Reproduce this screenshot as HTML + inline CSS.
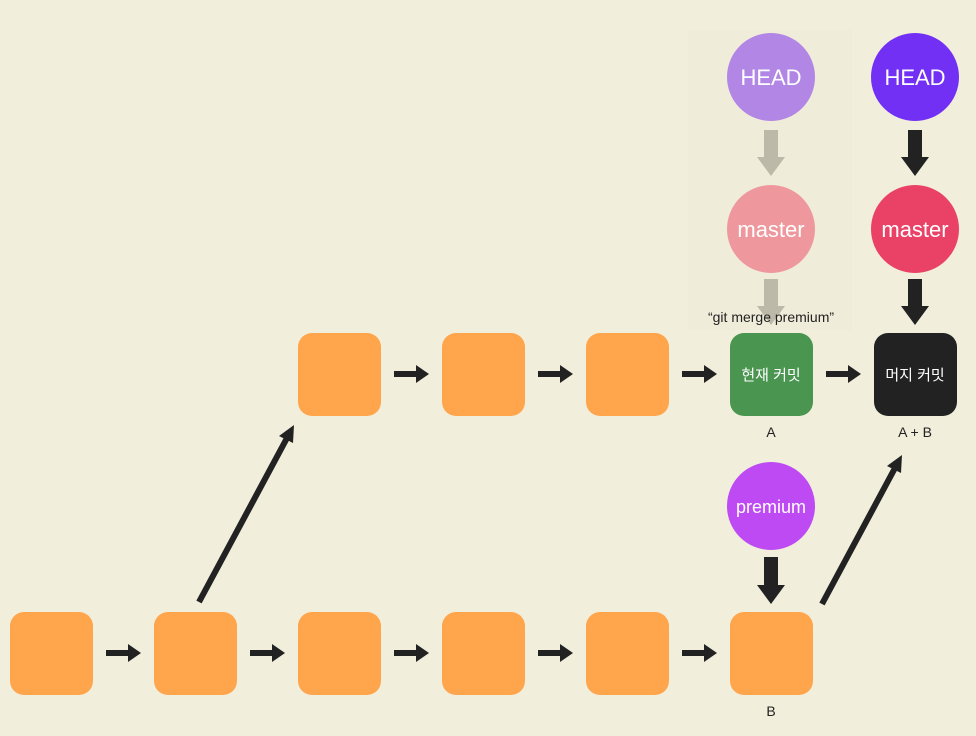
<!DOCTYPE html>
<html><head><meta charset="utf-8"><style>
html,body{margin:0;padding:0;background:#f1eedb;}
svg{display:block}
text{font-family:"Liberation Sans","Noto Sans CJK KR",sans-serif;}
</style></head><body>
<svg width="976" height="736" viewBox="0 0 976 736" xmlns="http://www.w3.org/2000/svg">
<defs>
<g id="ha"><rect x="0" y="-3" width="23" height="6" fill="#222"/><polygon points="22,-9 35,0 22,9" fill="#222"/></g>
</defs>
<rect width="976" height="736" fill="#f1eedb"/>
<rect x="688" y="30" width="164" height="300" fill="#f0ecda"/>
<g fill="#ffa54c">
<rect x="10" y="612" width="83" height="83" rx="14"/>
<rect x="154" y="612" width="83" height="83" rx="14"/>
<rect x="298" y="612" width="83" height="83" rx="14"/>
<rect x="442" y="612" width="83" height="83" rx="14"/>
<rect x="586" y="612" width="83" height="83" rx="14"/>
<rect x="730" y="612" width="83" height="83" rx="14"/>
<rect x="298" y="333" width="83" height="83" rx="14"/>
<rect x="442" y="333" width="83" height="83" rx="14"/>
<rect x="586" y="333" width="83" height="83" rx="14"/>
</g>
<rect x="730" y="333" width="83" height="83" rx="14" fill="#4a9550"/>
<rect x="874" y="333" width="83" height="83" rx="14" fill="#222"/>
<text x="771" y="380" font-size="15" fill="#fff" text-anchor="middle">현재 커밋</text>
<text x="915" y="380" font-size="15" fill="#fff" text-anchor="middle">머지 커밋</text>
<text x="771" y="437" font-size="14" fill="#222" text-anchor="middle">A</text>
<text x="915" y="437" font-size="14" fill="#222" text-anchor="middle">A + B</text>
<text x="771" y="716" font-size="14" fill="#222" text-anchor="middle">B</text>
<use href="#ha" x="106" y="653"/><use href="#ha" x="250" y="653"/><use href="#ha" x="394" y="653"/>
<use href="#ha" x="538" y="653"/><use href="#ha" x="682" y="653"/>
<use href="#ha" x="394" y="374"/><use href="#ha" x="538" y="374"/><use href="#ha" x="682" y="374"/>
<use href="#ha" x="826" y="374"/>
<line x1="199" y1="602" x2="287" y2="438" stroke="#222" stroke-width="6"/>
<polygon points="294,425 279,436 293,443" fill="#222"/>
<line x1="822" y1="604" x2="895" y2="468" stroke="#222" stroke-width="6"/>
<polygon points="902,455 887,466 901,473" fill="#222"/>
<circle cx="771" cy="77" r="44" fill="#b286e5"/>
<circle cx="771" cy="229" r="44" fill="#ee989d"/>
<circle cx="915" cy="77" r="44" fill="#7330f5"/>
<circle cx="915" cy="229" r="44" fill="#ea4167"/>
<circle cx="771" cy="506" r="44" fill="#bd4af3"/>
<text x="771" y="85" font-size="22" fill="#fff" text-anchor="middle">HEAD</text>
<text x="915" y="85" font-size="22" fill="#fff" text-anchor="middle">HEAD</text>
<text x="771" y="237" font-size="22" fill="#fff" text-anchor="middle">master</text>
<text x="915" y="237" font-size="22" fill="#fff" text-anchor="middle">master</text>
<text x="771" y="513" font-size="18" fill="#fff" text-anchor="middle">premium</text>
<g fill="#bcb9a8">
<rect x="764" y="130" width="14" height="27"/><polygon points="757,157 785,157 771,176"/>
<rect x="764" y="279" width="14" height="27"/><polygon points="757,306 785,306 771,325"/>
</g>
<g fill="#222">
<rect x="908" y="130" width="14" height="27"/><polygon points="901,157 929,157 915,176"/>
<rect x="908" y="279" width="14" height="27"/><polygon points="901,306 929,306 915,325"/>
<rect x="764" y="557" width="14" height="28"/><polygon points="757,585 785,585 771,604"/>
</g>
<text x="771" y="322" font-size="14" fill="#222" text-anchor="middle">“git merge premium”</text>
</svg>
</body></html>
